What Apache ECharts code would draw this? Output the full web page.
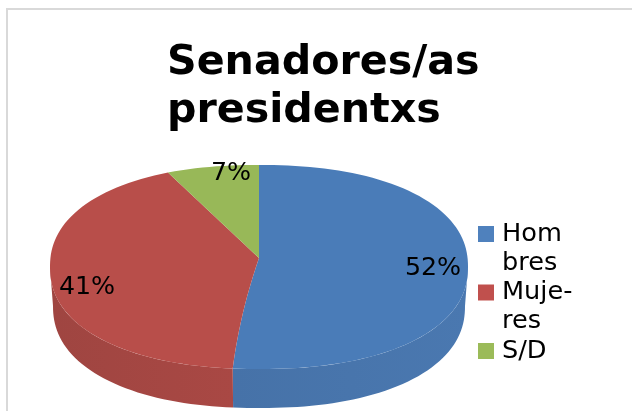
<!DOCTYPE html>
<html><head><meta charset="utf-8">
<style>html,body{margin:0;padding:0;background:#fff}#c{width:632px;height:411px}</style>
<script src="https://cdn.jsdelivr.net/npm/echarts@6/dist/echarts.min.js"></script>
</head><body><div id="c"></div>
<script>
const categories = ['Hombres', 'Mujeres', 'S/D'];
const values = [52, 41, 7];
const legendLabels = [' \nHom\nbres', ' \nMuje-\nres', ' \nS/D\n '];
const titleText = 'Senadores/as\npresidentxs';

const topColors = ['#4a7cb8', '#b84e4a', '#98b858'];
const sideColors = [['#4672a8', '#4a78b0'], ['#9f4541', '#a94844'], ['#8aa650', '#8aa650']];
const legendColors = ['#4f81bd', '#c0504d', '#9bbb59'];
const labelPos = [[433, 268], [87, 287], [231, 173]];
const edgeBow = [0, -6, 0, 0];
const FONT = '"DejaVu Sans"';
const top3d = {cx: 259, cy: 267, rx: 209, ry: 102, apexY: 258};
const bot3d = {cx: 259, cy: 306, rx: 206, ry: 102};
const SUPER = 2.22;
const total = values.reduce((a, b) => a + b, 0);

function pt(e, deg) {
  const a = deg * Math.PI / 180, s = Math.sin(a), c = Math.cos(a);
  const r = Math.pow(Math.pow(Math.abs(s), SUPER) + Math.pow(Math.abs(c), SUPER), -1 / SUPER);
  return [e.cx + e.rx * r * s, e.cy - e.ry * r * c];
}
function arc(e, a0, a1) {
  const n = Math.max(2, Math.ceil(Math.abs(a1 - a0) / 2)), out = [];
  for (let i = 0; i <= n; i++) out.push(pt(e, a0 + (a1 - a0) * i / n));
  return out;
}
function edge(deg, bow) {
  const A = [top3d.cx, top3d.apexY], B = pt(top3d, deg);
  const C = [(A[0] + B[0]) / 2 + bow, (A[1] + B[1]) / 2];
  const out = [];
  for (let i = 0; i < 12; i++) {
    const t = i / 12, u = 1 - t;
    out.push([u * u * A[0] + 2 * t * u * C[0] + t * t * B[0], u * u * A[1] + 2 * t * u * C[1] + t * t * B[1]]);
  }
  return out;
}
function makeRender(idx) {
  return function (params, api) {
    const v = api.value(0);
    let before = 0;
    for (let i = 0; i < idx; i++) before += values[i];
    const a0 = before / total * 360, a1 = (before + v) / total * 360;
    const children = [];
    const f0 = Math.max(a0, 90), f1 = Math.min(a1, 270);
    if (f1 > f0) {
      const t = arc(top3d, f0, f1), b = arc(bot3d, f0, f1).reverse();
      children.push({type: 'polygon', shape: {points: t.concat(b)}, style: {
        fill: new echarts.graphic.LinearGradient(0, 0, 1, 0, [
          {offset: 0, color: sideColors[idx][0]}, {offset: 1, color: sideColors[idx][1]}
        ])
      }});
    }
    const outline = edge(a0, edgeBow[idx]).concat(arc(top3d, a0, a1), edge(a1, edgeBow[idx + 1]).reverse());
    children.push({type: 'polygon', shape: {points: outline}, style: {fill: topColors[idx]}});
    children.push({type: 'text', z2: 10, style: {
      text: Math.round(v / total * 100) + '%',
      x: labelPos[idx][0], y: labelPos[idx][1], align: 'center', verticalAlign: 'middle',
      font: '25.3px ' + FONT, fill: '#000'
    }});
    return {type: 'group', children};
  };
}
const chart = echarts.init(document.getElementById('c'), null, {renderer: 'canvas'});
chart.setOption({
  animation: false,
  backgroundColor: '#fff',
  title: {text: titleText, left: 167, top: 39, padding: 0,
    textStyle: {fontFamily: FONT, fontWeight: 'bold', fontSize: 41.2, lineHeight: 48, color: '#000'}},
  legend: {
    orient: 'vertical', left: 478, top: 190.5, padding: 0, itemGap: -28.5,
    itemWidth: 16, itemHeight: 16, icon: 'rect', selectedMode: false,
    data: categories,
    formatter: name => legendLabels[categories.indexOf(name)],
    textStyle: {fontFamily: FONT, fontSize: 25.6, lineHeight: 29, color: '#000', padding: [0, 0, 0, 3]}
  },
  graphic: [
    {type: 'rect', silent: true, shape: {x: 7, y: 9, width: 640, height: 420},
     style: {fill: 'none', stroke: '#d9d9d9', lineWidth: 2}}
  ],
  series: categories.map((name, i) => ({
    type: 'custom', name, coordinateSystem: 'none', silent: true,
    itemStyle: {color: legendColors[i]},
    data: [[values[i]]],
    renderItem: makeRender(i)
  }))
});
</script></body></html>
